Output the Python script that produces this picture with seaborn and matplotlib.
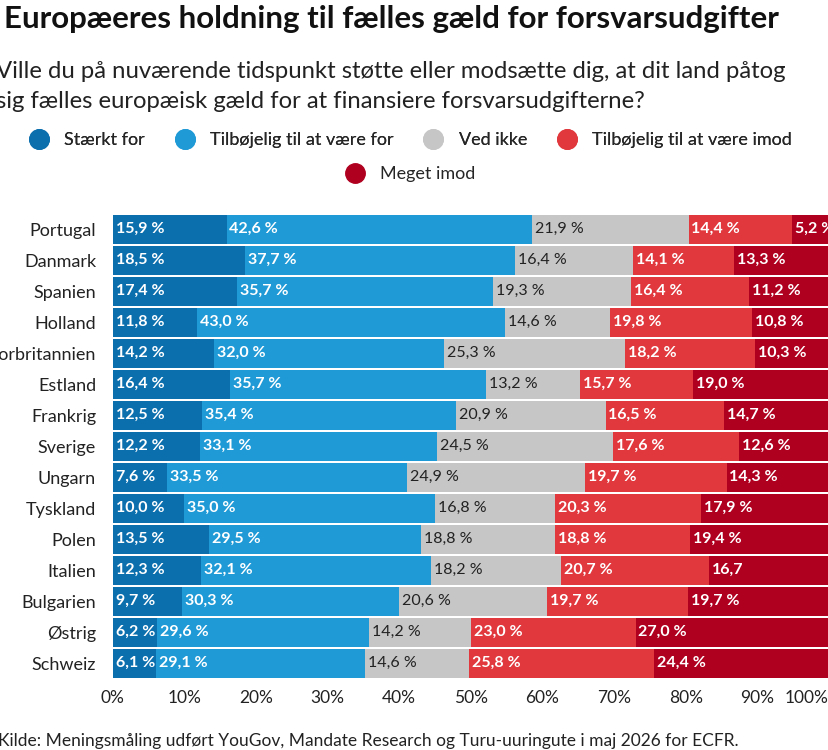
import matplotlib
matplotlib.use("Agg")
import matplotlib.pyplot as plt
from matplotlib.lines import Line2D
import seaborn as sns
import pandas as pd
import numpy as np

countries = ["Portugal","Danmark","Spanien","Holland","Storbritannien","Estland","Frankrig",
             "Sverige","Ungarn","Tyskland","Polen","Italien","Bulgarien","Østrig","Schweiz"]
series = ["Stærkt for","Tilbøjelig til at være for","Ved ikke","Tilbøjelig til at være imod","Meget imod"]
strong_for = [15.9,18.5,17.4,11.8,14.2,16.4,12.5,12.2,7.6,10.0,13.5,12.3,9.7,6.2,6.1]
lean_for   = [42.6,37.7,35.7,43.0,32.0,35.7,35.4,33.1,33.5,35.0,29.5,32.1,30.3,29.6,29.1]
dont_know  = [21.9,16.4,19.3,14.6,25.3,13.2,20.9,24.5,24.9,16.8,18.8,18.2,20.6,14.2,14.6]
lean_ag    = [14.4,14.1,16.4,19.8,18.2,15.7,16.5,17.6,19.7,20.3,18.8,20.7,19.7,23.0,25.8]
strong_ag  = [5.2,13.3,11.2,10.8,10.3,19.0,14.7,12.6,14.3,17.9,19.4,16.7,19.7,27.0,24.4]
labels_last = ["5,2 %","13,3 %","11,2 %","10,8 %","10,3 %","19,0 %","14,7 %","12,6 %","14,3 %",
               "17,9 %","19,4 %","16,7","19,7 %","27,0 %","24,4 %"]
colors = ["#0b6fae","#1f9ad6","#c6c6c6","#e0383d","#b00020"]
txtcol = ["white","white","#222222","white","white"]

vals = [strong_for, lean_for, dont_know, lean_ag, strong_ag]
cum = np.cumsum(np.array(vals), axis=0)

sns.set_theme(style="white")
plt.rcParams['font.family'] = ['Lato', 'DejaVu Sans']
fig = plt.figure(figsize=(8.29, 7.5), dpi=100)
ax = fig.add_axes([0.136, 0.095, 0.864, 0.62])

for i in range(4, -1, -1):
    df = pd.DataFrame({"country": countries, "v": cum[i]})
    sns.barplot(data=df, y="country", x="v", color=colors[i], orient="h", ax=ax,
                width=0.93, edgecolor="white", linewidth=0, saturation=1)

for i in range(5):
    for j, c in enumerate(countries):
        left = cum[i][j] - vals[i][j]
        lab = labels_last[j] if i == 4 else f"{vals[i][j]:.1f} %".replace(".", ",")
        ax.text(left + 0.4, j, lab, va="center", ha="left", color=txtcol[i],
                fontsize=11.5, fontweight="bold" if i != 2 else "normal", clip_on=False)

ax.set_xlim(0, 100)
ax.set_ylim(14.5, -0.5)
ax.set_xticks(np.arange(0, 101, 10))
ax.set_xticklabels([f"{v}%" for v in range(0, 101, 10)], fontsize=12.5, color="#222")
ax.get_xticklabels()[-1].set_ha("right")
ax.set_xlabel(""); ax.set_ylabel("")
ax.tick_params(axis="y", labelsize=13, colors="#222", length=0, pad=12)
ax.tick_params(axis="x", length=0, pad=8)
for s in ax.spines.values():
    s.set_visible(False)

fig.text(0.005, 0.975, "Europæeres holdning til fælles gæld for forsvarsudgifter",
         fontsize=22.5, fontweight="bold", color="#111", va="center")
fig.text(-0.005, 0.885, "Ville du på nuværende tidspunkt støtte eller modsætte dig, at dit land påtog\n"
         "sig fælles europæisk gæld for at finansiere forsvarsudgifterne?",
         fontsize=17.2, color="#222", va="center", linespacing=1.55)

h = [Line2D([], [], marker="o", linestyle="", markersize=14, color=c) for c in colors]
leg1 = fig.legend(h[:4], series[:4], loc="center", bbox_to_anchor=(0.49, 0.813), ncol=4,
                  frameon=False, fontsize=13, handletextpad=0.4, columnspacing=1.2)
fig.add_artist(leg1)
fig.legend(h[4:], series[4:], loc="center", bbox_to_anchor=(0.49, 0.768), ncol=1,
           frameon=False, fontsize=13, handletextpad=0.4)

fig.text(-0.002, 0.012, "Kilde: Meningsmåling udført YouGov, Mandate Research og Turu-uuringute i maj 2026 for ECFR.",
         fontsize=12.5, color="#222", va="center")
fig.savefig("out.png", dpi=100)
